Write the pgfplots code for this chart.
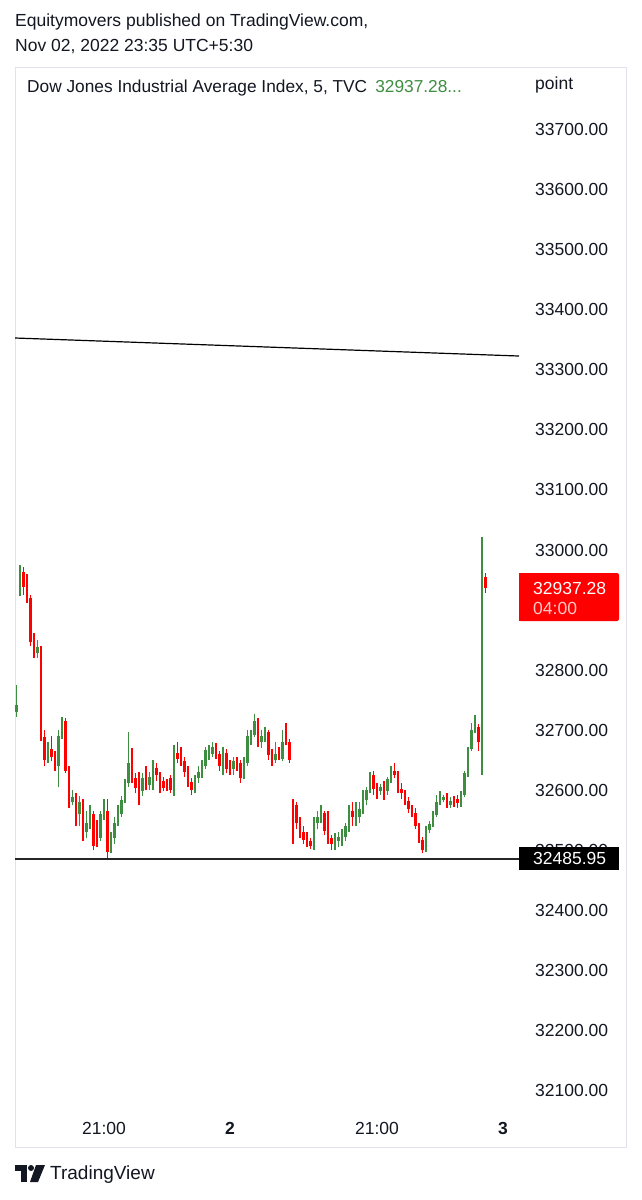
\documentclass[border=0pt]{standalone}
\usepackage{pgfplots}
\pgfplotsset{compat=1.18}
\usepackage{pgfplotstable}
\usepackage{fontspec}
\setmainfont{Liberation Sans}
\definecolor{tvgreen}{HTML}{3E8E41}
\definecolor{tvred}{HTML}{FF0000}
\definecolor{tvtext}{HTML}{131722}
\definecolor{tvframe}{HTML}{E0E3EB}
\definecolor{tvpink}{HTML}{FFC8C8}

% green (rising) candles: bar index, open, high, low, close
\pgfplotstableread{
x o h l c
-1 32730 32775 32722 32742
0 32935 32975 32923 32963
5 32828 32850 32820 32838
8 32650 32680 32645 32668
11 32640 32700 32605 32690
12 32690 32722 32685 32715
15 32580 32600 32575 32588
17 32560 32590 32540 32580
19 32530 32565 32520 32545
20 32545 32575 32535 32560
23 32520 32565 32515 32560
24 32560 32585 32550 32566
26 32500 32530 32495 32520
27 32520 32555 32510 32545
28 32545 32575 32540 32560
29 32560 32590 32555 32584
30 32584 32618 32578 32612
31 32612 32697 32605 32645
35 32598 32628 32590 32620
37 32608 32630 32600 32622
38 32622 32650 32600 32637
44 32600 32675 32590 32662
50 32600 32625 32595 32620
51 32620 32640 32612 32630
52 32628 32650 32620 32642
53 32640 32672 32635 32667
54 32662 32675 32650 32666
55 32660 32680 32655 32672
58 32635 32672 32625 32660
61 32635 32655 32625 32648
64 32625 32655 32618 32645
65 32645 32700 32640 32690
66 32682 32700 32675 32690
67 32692 32727 32688 32715
69 32680 32700 32670 32690
70 32688 32705 32680 32697
73 32650 32680 32645 32660
75 32652 32700 32648 32680
84 32508 32555 32500 32545
85 32545 32565 32535 32555
86 32555 32575 32545 32562
90 32510 32528 32500 32520
91 32515 32530 32505 32522
92 32515 32535 32508 32525
93 32522 32545 32515 32540
94 32540 32575 32530 32565
96 32555 32580 32540 32565
97 32555 32580 32545 32568
98 32565 32600 32560 32583
99 32583 32605 32575 32600
100 32600 32630 32595 32625
103 32598 32610 32592 32605
105 32598 32622 32592 32618
106 32620 32640 32612 32632
116 32500 32540 32497 32533
117 32533 32548 32528 32543
118 32543 32565 32538 32558
119 32558 32592 32555 32580
120 32580 32598 32575 32588
121 32584 32592 32580 32588
123 32575 32588 32570 32582
126 32578 32598 32572 32592
127 32592 32632 32588 32628
128 32628 32672 32622 32668
129 32668 32712 32665 32700
130 32698 32725 32695 32703
132 32680 33022 32625 32957
}\greentab

% red (falling) candles
\pgfplotstableread{
x o h l c
1 32963 32972 32925 32938
2 32938 32960 32912 32920
3 32920 32925 32840 32847
4 32847 32862 32820 32828
6 32838 32840 32682 32688
7 32688 32700 32640 32650
9 32668 32690 32648 32655
10 32655 32665 32632 32640
13 32715 32720 32628 32632
14 32632 32640 32570 32580
16 32588 32595 32540 32560
18 32580 32585 32515 32530
21 32560 32565 32500 32508
22 32545 32550 32505 32512
25 32566 32585 32488 32498
32 32645 32670 32612 32620
33 32620 32628 32595 32603
34 32603 32630 32575 32598
36 32620 32640 32600 32608
39 32637 32645 32615 32625
40 32625 32630 32595 32605
41 32615 32622 32598 32603
42 32612 32618 32598 32605
43 32620 32625 32595 32600
45 32662 32680 32645 32652
46 32652 32672 32640 32645
47 32648 32655 32622 32630
48 32632 32640 32605 32612
49 32614 32620 32592 32600
56 32672 32678 32652 32660
57 32660 32665 32632 32640
59 32662 32668 32628 32635
60 32645 32650 32625 32635
62 32648 32655 32632 32640
63 32645 32650 32612 32620
68 32715 32720 32672 32680
71 32697 32700 32650 32658
72 32660 32668 32640 32650
74 32660 32672 32650 32655
76 32705 32712 32675 32680
77 32680 32685 32645 32650
78 32580 32585 32510 32572
79 32575 32580 32535 32545
80 32545 32555 32520 32530
81 32530 32540 32510 32518
82 32520 32530 32505 32515
83 32515 32520 32502 32508
87 32562 32565 32525 32532
88 32560 32565 32510 32515
89 32520 32525 32500 32510
95 32565 32580 32540 32555
101 32625 32632 32592 32602
102 32605 32612 32585 32598
104 32610 32615 32583 32590
107 32632 32645 32620 32625
108 32625 32632 32595 32600
109 32602 32612 32585 32595
110 32595 32600 32575 32580
111 32582 32588 32562 32568
112 32568 32575 32555 32562
113 32562 32570 32535 32540
114 32542 32545 32512 32518
115 32518 32522 32495 32500
122 32587 32595 32570 32575
124 32586 32590 32572 32580
125 32585 32592 32570 32578
131 32705 32710 32665 32680
133 32955 32962 32928 32937
}\redtab

\begin{document}
\begin{tikzpicture}
\fill[white] (0pt,0pt) rectangle (641pt,-1200pt);
\begin{scope}[x=1pt,y=-1pt]
  \draw[tvframe, line width=1pt] (15,67) rectangle (626,1147);
\end{scope}
\begin{axis}[
  at={(15pt,-1110pt)}, anchor=south west,
  scale only axis, width=504pt, height=1044pt,
  xmin=-1.4286, xmax=142.571,
  ymin=32067.6, ymax=33805.9,
  axis line style={draw=none},
  tick style={draw=none},
  major tick length=0pt,
  scaled y ticks=false, scaled x ticks=false,
  ytick={32100,32200,32300,32400,32500,32600,32700,32800,33000,33100,33200,33300,33400,33500,33600,33700},
  yticklabels={32100.00,32200.00,32300.00,32400.00,32500.00,32600.00,32700.00,32800.00,33000.00,33100.00,33200.00,33300.00,33400.00,33500.00,33600.00,33700.00},
  yticklabel pos=right,
  yticklabel style={anchor=west, inner sep=0pt, xshift=16pt},
  xtick={24,60,102,138},
  xticklabels={21:00,\textbf{2},21:00,\textbf{3}},
  xticklabel style={anchor=north, inner sep=0pt, yshift=-12pt},
  every tick label/.append style={font=\fontsize{17.5}{20}\selectfont, text=tvtext},
  clip=true,
]
% trend line and support line
\addplot[black, line width=1.2pt] coordinates {(-1.4286,33353) (142.571,33323)};
\addplot[black!85, line width=1.6pt] coordinates {(-1.4286,32485.95) (142.571,32485.95)};
% wicks
\addplot[draw=none, mark=none, forget plot,
  error bars/.cd, y dir=plus, y explicit, error mark=none,
  error bar style={draw=tvgreen, line width=1.1pt}]
  table[x=x, y=l, y error plus expr={\thisrow{h}-\thisrow{l}}] {\greentab};
\addplot[draw=none, mark=none, forget plot,
  error bars/.cd, y dir=plus, y explicit, error mark=none,
  error bar style={draw=tvred, line width=1.1pt}]
  table[x=x, y=l, y error plus expr={\thisrow{h}-\thisrow{l}}] {\redtab};
% bodies
\addplot[draw=none, mark=none, forget plot,
  error bars/.cd, y dir=plus, y explicit, error mark=none,
  error bar style={draw=tvgreen, line width=2.8pt}]
  table[x=x, y=o, y error plus expr={\thisrow{c}-\thisrow{o}}] {\greentab};
\addplot[draw=none, mark=none, forget plot,
  error bars/.cd, y dir=plus, y explicit, error mark=none,
  error bar style={draw=tvred, line width=2.8pt}]
  table[x=x, y=c, y error plus expr={\thisrow{o}-\thisrow{c}}] {\redtab};
\end{axis}
\begin{scope}[x=1pt,y=-1pt, every node/.style={inner sep=0pt, text=tvtext}]
  \node[anchor=west, font=\fontsize{17.5}{20}\selectfont] at (15,22) {Equitymovers published on TradingView.com,};
  \node[anchor=west, font=\fontsize{17.5}{20}\selectfont] at (15,47) {Nov 02, 2022 23:35 UTC+5:30};
  \node[anchor=west, font=\fontsize{17.3}{20}\selectfont] at (27,88) {Dow Jones Industrial Average Index, 5, TVC\hspace{8pt}\textcolor{tvgreen}{32937.28...}};
  \node[anchor=west, font=\fontsize{17.5}{20}\selectfont] at (535,85) {point};
  % last price label
  \fill[tvred, rounded corners=2pt] (519,573) rectangle (619,621);
  \fill[tvred] (519,573) rectangle (525,621);
  \node[anchor=west, text=white, font=\fontsize{17.5}{20}\selectfont] at (533,588) {32937.28};
  \node[anchor=west, text=tvpink, font=\fontsize{17.5}{20}\selectfont] at (533,608) {04:00};
  % horizontal line label
  \fill[black] (519,847) rectangle (619,870);
  \node[anchor=west, text=white, font=\fontsize{17.5}{20}\selectfont] at (533,858.5) {32485.95};
  % TradingView logo
  \fill[tvtext] (15,1165) rectangle (27,1171);
  \fill[tvtext] (21,1165) rectangle (27,1182);
  \fill[tvtext] (31,1168) circle (3);
  \fill[tvtext] (36,1165) -- (45,1165) -- (38,1182) -- (30,1182) -- cycle;
  \node[anchor=west, font=\fontsize{19}{22}\selectfont] at (50,1175) {TradingView};
\end{scope}
\end{tikzpicture}
\end{document}
